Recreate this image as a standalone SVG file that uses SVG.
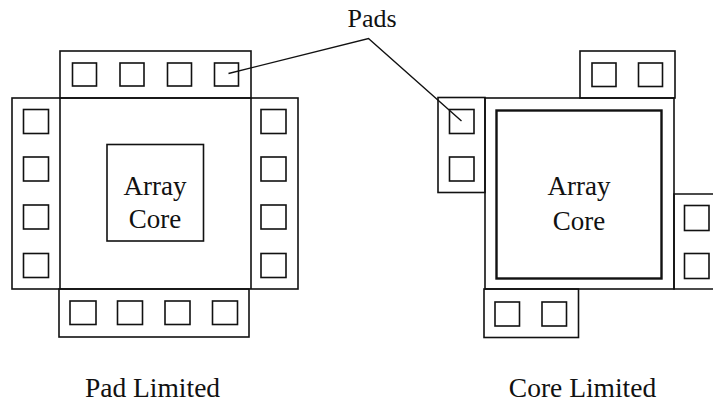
<svg xmlns="http://www.w3.org/2000/svg" width="713" height="409" viewBox="0 0 713 409">
<style>
.o{fill:none;stroke:#111;stroke-width:1.6}
.p{fill:#fff;stroke:#111;stroke-width:1.6}
.c{fill:none;stroke:#111;stroke-width:2.4}
.t{font-family:"Liberation Serif","Times New Roman",serif;fill:#111;text-anchor:middle}
.ln{fill:none;stroke:#111;stroke-width:1.4}
</style>
<rect width="713" height="409" fill="#fff"/>
<g id="pad-limited">
  <rect class="o" x="60" y="51" width="191" height="47"/>
  <rect class="o" x="12" y="98" width="286" height="191"/>
  <line class="o" x1="60" y1="98" x2="60" y2="289"/>
  <line class="o" x1="251" y1="98" x2="251" y2="289"/>
  <rect class="o" x="59" y="289" width="190" height="48"/>
  <g id="pl-top-pads">
    <rect class="p" x="72.5" y="63" width="24" height="23"/>
    <rect class="p" x="120" y="63" width="24" height="23"/>
    <rect class="p" x="167.5" y="63" width="24" height="23"/>
    <rect class="p" x="214.5" y="63" width="24" height="23"/>
  </g>
  <g id="pl-left-pads">
    <rect class="p" x="23.5" y="109.5" width="25" height="24"/>
    <rect class="p" x="23.5" y="157" width="25" height="24"/>
    <rect class="p" x="23.5" y="205" width="25" height="24"/>
    <rect class="p" x="23.5" y="253.5" width="25" height="24"/>
  </g>
  <g id="pl-right-pads">
    <rect class="p" x="261" y="109.5" width="25" height="24"/>
    <rect class="p" x="261" y="157" width="25" height="24"/>
    <rect class="p" x="261" y="205" width="25" height="24"/>
    <rect class="p" x="261" y="253.5" width="25" height="24"/>
  </g>
  <g id="pl-bottom-pads">
    <rect class="p" x="70" y="301" width="26" height="23.5"/>
    <rect class="p" x="117.5" y="301" width="25" height="23.5"/>
    <rect class="p" x="165" y="301" width="25" height="23.5"/>
    <rect class="p" x="212.5" y="301" width="25" height="23.5"/>
  </g>
  <g id="pl-core">
    <rect class="o" x="107" y="144.5" width="96.5" height="96.5"/>
    <text class="t" x="155" y="195" font-size="27">Array</text>
    <text class="t" x="155" y="228" font-size="27">Core</text>
  </g>
  <text class="t" x="152.5" y="396.5" font-size="27.5">Pad Limited</text>
</g>
<g id="core-limited">
  <rect class="o" x="580" y="51" width="95" height="47"/>
  <rect class="o" x="438" y="97.5" width="47" height="95"/>
  <rect class="o" x="485" y="98" width="189" height="191"/>
  <polyline class="o" points="713,194 674,194 674,289 713,289"/>
  <rect class="o" x="484" y="289" width="94.5" height="48.5"/>
  <rect class="c" x="496.5" y="110.5" width="165" height="168"/>
  <g id="cl-top-pads">
    <rect class="p" x="592" y="63" width="24" height="23.5"/>
    <rect class="p" x="638.5" y="63" width="24" height="23.5"/>
  </g>
  <g id="cl-left-pads">
    <rect class="p" x="449.5" y="109.5" width="24.5" height="24"/>
    <rect class="p" x="449.5" y="157" width="24.5" height="24"/>
  </g>
  <g id="cl-right-pads">
    <rect class="p" x="684.5" y="205.5" width="24.5" height="25"/>
    <rect class="p" x="684.5" y="253.5" width="24.5" height="25"/>
  </g>
  <g id="cl-bottom-pads">
    <rect class="p" x="495" y="302" width="24.5" height="24"/>
    <rect class="p" x="542" y="302" width="24.5" height="24"/>
  </g>
  <text class="t" x="579" y="195" font-size="27">Array</text>
  <text class="t" x="579" y="230" font-size="27">Core</text>
  <text class="t" x="582.5" y="396.5" font-size="27.5">Core Limited</text>
</g>
<g id="pads-label">
  <text class="t" x="372" y="27" font-size="26">Pads</text>
</g>
<g id="connectors">
  <polyline class="ln" points="228.5,73.5 368.5,38.5 461.5,121"/>
</g>
</svg>
